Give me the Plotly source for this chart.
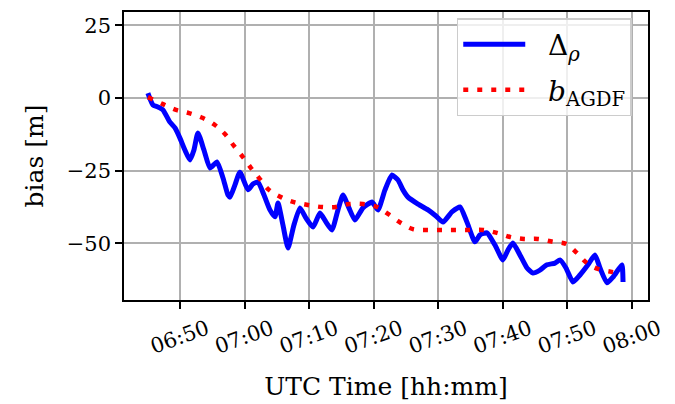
import pandas as pd
import plotly.graph_objects as go

DAY = "2023-01-01 "

# Delta_rho (blue) measured bias
delta_time = ["06:45:02", "06:45:49", "06:46:35", "06:47:22", "06:48:27", "06:49:14", "06:50:00",
              "06:50:46", "06:51:33", "06:52:10", "06:52:47", "06:53:43", "06:54:39", "06:55:44",
              "06:56:40", "06:57:26", "06:57:45", "06:58:31", "06:59:17", "07:00:32", "07:01:18",
              "07:02:05", "07:03:01", "07:03:56", "07:04:43", "07:05:11", "07:05:57", "07:06:44",
              "07:07:39", "07:08:35", "07:09:31", "07:10:36", "07:11:41", "07:12:37", "07:13:32",
              "07:14:28", "07:15:15", "07:16:10", "07:17:06", "07:18:20", "07:19:44", "07:20:40",
              "07:21:45", "07:22:50", "07:23:46", "07:24:32", "07:25:19", "07:26:52", "07:28:25",
              "07:29:39", "07:30:44", "07:32:07", "07:33:22", "07:34:27", "07:35:41", "07:36:28",
              "07:37:33", "07:38:47", "07:40:01", "07:40:48", "07:41:34", "07:42:39", "07:43:45",
              "07:44:40", "07:45:45", "07:46:50", "07:48:05", "07:48:51", "07:49:47", "07:50:52",
              "07:51:57", "07:53:11", "07:54:16", "07:55:03", "07:56:08", "07:57:04", "07:57:50",
              "07:58:27", "07:58:37"]
delta_vals = [1.7, -2.4, -3.1, -4.1, -8.3, -10.3, -13.8,
              -17.9, -21.3, -17.9, -12.0, -17.9, -24.1, -22.0,
              -27.5, -33.4, -34.1, -29.9, -25.5, -31.6, -29.6,
              -28.9, -33.4, -38.5, -40.9, -36.1, -43.7, -51.6,
              -43.7, -37.8, -41.3, -44.4, -39.6, -42.7, -45.4,
              -38.5, -33.4, -37.8, -42.0, -37.8, -35.8, -38.5,
              -31.6, -26.5, -28.2, -31.6, -34.1, -36.5, -38.5,
              -40.6, -42.7, -39.2, -37.5, -42.7, -49.5, -47.1,
              -46.4, -50.6, -55.7, -52.3, -49.9, -54.0, -58.5,
              -60.2, -59.2, -57.4, -56.8, -55.7, -58.5, -63.3,
              -60.9, -57.4, -54.0, -58.5, -63.6, -61.6, -59.2,
              -57.4, -63.3]

# b_AGDF (red dotted) estimated bias
agdf_time = ["06:45:02", "06:47:22", "06:49:23", "06:51:24", "06:53:34", "06:55:25", "06:56:58",
             "06:58:22", "06:59:45", "07:01:00", "07:02:23", "07:03:47", "07:05:38", "07:07:39",
             "07:09:49", "07:11:59", "07:14:09", "07:16:10", "07:18:20", "07:20:31", "07:22:13",
             "07:24:14", "07:26:05", "07:28:15", "07:30:25", "07:32:35", "07:34:55", "07:36:56",
             "07:39:05", "07:41:07", "07:43:17", "07:45:26", "07:47:46", "07:49:47", "07:51:29",
             "07:53:02", "07:54:44", "07:57:04", "07:58:08"]
agdf_vals = [0.3, -2.1, -4.1, -5.2, -6.9, -9.3, -12.4,
             -16.5, -20.3, -24.1, -27.9, -31.6, -34.1, -35.8,
             -36.8, -37.5, -37.5, -36.5, -36.5, -37.5, -39.9,
             -43.0, -45.1, -45.4, -45.4, -45.4, -45.4, -45.4,
             -46.4, -47.8, -48.5, -48.5, -49.5, -50.2, -53.3,
             -56.8, -58.8, -59.9, -60.2]

y_ticks = [25, 0, -25, -50]
x_tick0 = "06:50"
x_range = ["06:41:20", "08:02:29"]
y_range = [-69.5, 29.6]

dt = lambda lst: pd.to_datetime([DAY + s for s in lst])

FONT = "DejaVu Serif"
NB = "\u00a0"

fig = go.Figure()
fig.add_trace(go.Scatter(x=dt(delta_time), y=delta_vals, mode="lines",
                         line=dict(color="#0000ff", width=5, shape="spline", smoothing=0.5),
                         name=NB * 2 + "Δ<sub><i>ρ</i></sub>", legendgroup="a"))
fig.add_trace(go.Scatter(x=dt(agdf_time), y=agdf_vals, mode="lines",
                         line=dict(color="#ff0000", width=4.5, dash="5px,9px", shape="spline"),
                         name=NB * 2 + "<i>b</i><sub>AGDF</sub>", legendgroup="b"))

axis_common = dict(showline=True, linecolor="black", linewidth=1.5, mirror=True,
                   ticks="outside", ticklen=7, tickwidth=1.5, tickcolor="black",
                   showgrid=True, gridcolor="#b0b0b0", gridwidth=1.5, zeroline=False,
                   automargin=False,
                   tickfont=dict(family=FONT, size=21, color="black"))

fig.update_layout(
    width=675, height=404,
    margin=dict(l=124, r=27, t=12, b=104),
    paper_bgcolor="white", plot_bgcolor="white",
    font=dict(family=FONT, size=21, color="black"),
    xaxis=dict(type="date", range=[DAY + x_range[0], DAY + x_range[1]],
               tick0=DAY + x_tick0, dtick=600000, tickformat="%H:%M", tickangle=-20,
               ticklabelshift=27,
               title=dict(text="UTC Time [hh:mm]", font=dict(family=FONT, size=25), standoff=20),
               **axis_common),
    yaxis=dict(range=y_range, tickvals=y_ticks,
               title=dict(text="bias [m]", font=dict(family=FONT, size=25), standoff=16),
               **axis_common),
    legend=dict(x=0.969, y=0.979, xanchor="right", yanchor="top",
                bgcolor="rgba(255,255,255,0.8)", bordercolor="#cccccc", borderwidth=1.5,
                font=dict(family=FONT, size=28, color="black"), itemwidth=62,
                tracegroupgap=6),
    showlegend=True,
)

fig.write_html("out.html", config={"displayModeBar": False},
               post_script="document.body.style.margin='0';")
